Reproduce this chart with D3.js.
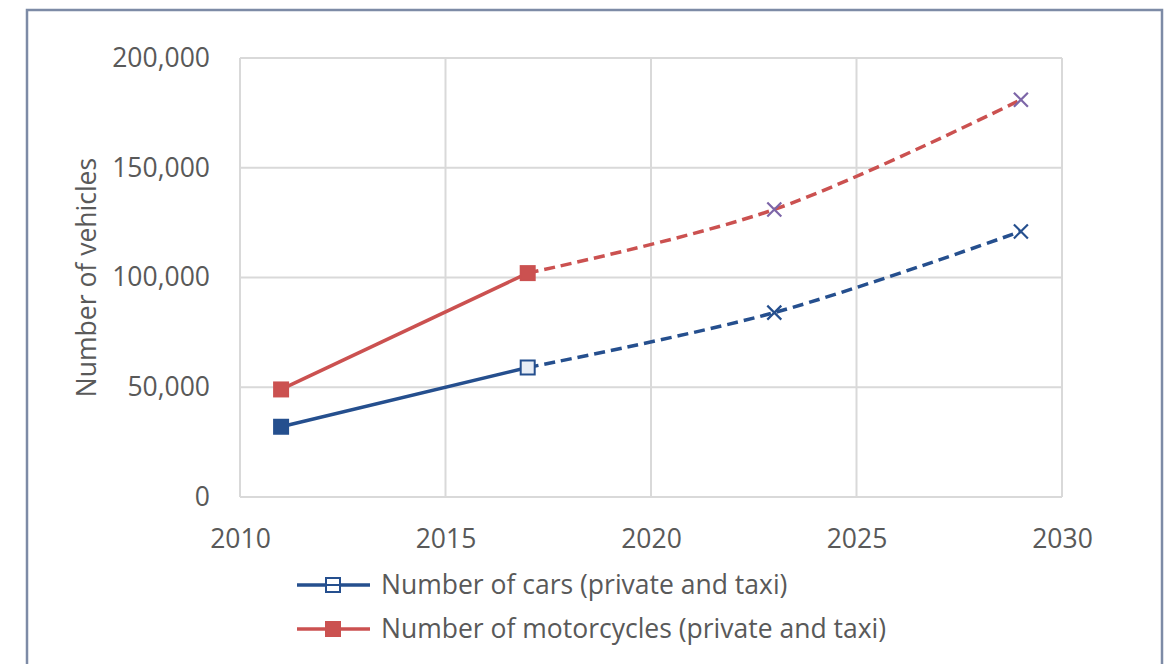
<!DOCTYPE html>
<html>
<head>
<meta charset="utf-8">
<script src="https://cdn.jsdelivr.net/npm/d3@7"></script>
<style>
  html, body { margin: 0; padding: 0; background: #fff; }
  svg { display: block; }
  svg text { font-family: 'Open Sans', sans-serif; }
</style>
</head>
<body>
<svg id="chart" width="1170" height="664"></svg>
<script>
const years = [2011, 2017, 2023, 2029]
const cars = [32000, 59000, 84000, 121000]
const motorcycles = [49000, 102000, 131000, 181000]
const xTicks = [2010, 2015, 2020, 2025, 2030]
const yTicks = [0, 50000, 100000, 150000, 200000]
const legendLabels = ['Number of cars (private and taxi)', 'Number of motorcycles (private and taxi)']

const svg = d3.select('#chart')
const margin = { top: 58, right: 108, bottom: 167, left: 240 }
const width = +svg.attr('width')
const height = +svg.attr('height')

const blue = '#254f8e'
const red = '#cb5150'
const purple = '#7d66a8'
const textColor = '#595959'
const fontSize = '26.5px'

// outer frame
svg.append('rect')
  .attr('x', 27).attr('y', 10)
  .attr('width', 1135).attr('height', 700)
  .attr('fill', '#fff')
  .attr('stroke', '#7d8ba6')
  .attr('stroke-width', 2.5)

const x = d3.scaleLinear().domain([2010, 2030]).range([margin.left, width - margin.right])
const y = d3.scaleLinear().domain([0, 200000]).range([height - margin.bottom, margin.top])

// grid
const grid = svg.append('g').attr('stroke', '#d9d9d9').attr('stroke-width', 2)
grid.selectAll('line.h').data(yTicks).join('line')
  .attr('x1', x(2010)).attr('x2', x(2030))
  .attr('y1', d => y(d)).attr('y2', d => y(d))
grid.selectAll('line.v').data(xTicks).join('line')
  .attr('x1', d => x(d)).attr('x2', d => x(d))
  .attr('y1', y(0)).attr('y2', y(200000))

// axes (labels only)
const fmt = d3.format(',')
const yAxis = svg.append('g')
  .attr('transform', `translate(${x(2010) - 27},0)`)
  .call(d3.axisLeft(y).tickValues(yTicks).tickFormat(fmt).tickSize(0))
yAxis.attr('font-family', null)
yAxis.select('.domain').remove()
yAxis.selectAll('text').attr('fill', textColor).style('font-size', fontSize)

const xAxis = svg.append('g')
  .attr('transform', `translate(0,${y(0) + 29})`)
  .call(d3.axisBottom(x).tickValues(xTicks).tickFormat(d3.format('d')).tickSize(0))
xAxis.attr('font-family', null)
xAxis.select('.domain').remove()
xAxis.selectAll('text').attr('fill', textColor).style('font-size', fontSize)

svg.append('text')
  .attr('transform', `translate(96,${(y(0) + y(200000)) / 2}) rotate(-90)`)
  .attr('text-anchor', 'middle')
  .attr('fill', textColor)
  .style('font-size', fontSize)
  .text('Number of vehicles')

// lines
const series = [
  { values: cars, color: blue, xColor: blue, hollowMid: true },
  { values: motorcycles, color: red, xColor: purple, hollowMid: false }
]

const solidLine = d3.line().x(d => x(d[0])).y(d => y(d[1]))
const dashLine = d3.line().x(d => x(d[0])).y(d => y(d[1])).curve(d3.curveCatmullRom.alpha(0.5))

series.forEach(s => {
  const pts = years.map((yr, i) => [yr, s.values[i]])
  const g = svg.append('g')

  g.append('path')
    .attr('d', dashLine(pts.slice(1)))
    .attr('fill', 'none')
    .attr('stroke', s.color)
    .attr('stroke-width', 3.5)
    .attr('stroke-dasharray', '11,6')

  g.append('path')
    .attr('d', solidLine(pts.slice(0, 2)))
    .attr('fill', 'none')
    .attr('stroke', s.color)
    .attr('stroke-width', 3.5)

  // square markers on actual values
  g.selectAll('rect').data(pts.slice(0, 2)).join('rect')
    .attr('x', d => x(d[0]) - 7)
    .attr('y', d => y(d[1]) - 7)
    .attr('width', 14).attr('height', 14)
    .attr('fill', (d, i) => (s.hollowMid && i === 1) ? '#e8edf5' : s.color)
    .attr('stroke', s.color)
    .attr('stroke-width', 2)

  // x markers on projections
  pts.slice(2).forEach(d => {
    const cx = x(d[0]), cy = y(d[1]), r = 7
    g.append('path')
      .attr('d', `M${cx - r},${cy - r}L${cx + r},${cy + r}M${cx - r},${cy + r}L${cx + r},${cy - r}`)
      .attr('stroke', s.xColor)
      .attr('stroke-width', 2.2)
      .attr('fill', 'none')
  })
})

// legend
const legend = svg.append('g').attr('transform', 'translate(297,585)')
legendLabels.forEach((label, i) => {
  const s = series[i]
  const item = legend.append('g').attr('transform', `translate(0,${i * 44})`)
  item.append('line')
    .attr('x1', 0).attr('x2', 73)
    .attr('stroke', s.color).attr('stroke-width', 3.5)
  item.append('rect')
    .attr('x', 36 - 7).attr('y', -7)
    .attr('width', 14).attr('height', 14)
    .attr('fill', i === 0 ? '#fff' : s.color)
    .attr('stroke', s.color).attr('stroke-width', 2)
  if (i === 0) {
    item.append('line').attr('x1', 29).attr('x2', 43)
      .attr('stroke', s.color).attr('stroke-width', 2)
  }
  item.append('text')
    .attr('x', 84).attr('y', 0).attr('dy', '0.35em')
    .attr('fill', textColor)
    .style('font-size', fontSize)
    .text(label)
})
</script>
</body>
</html>
